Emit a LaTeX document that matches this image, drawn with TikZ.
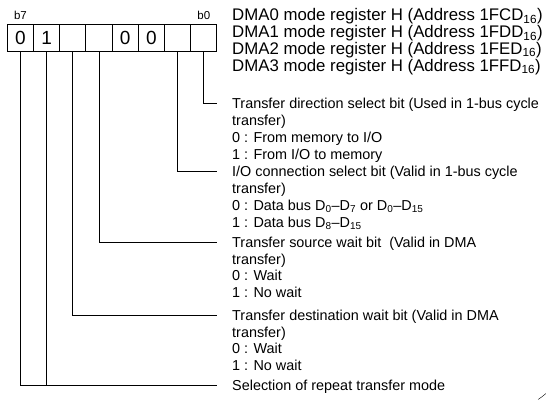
\documentclass[tikz,border=0pt]{standalone}
\usepackage{fontspec}
\setmainfont{Liberation Sans}
\usetikzlibrary{positioning}
\tikzset{
  bitcell/.style={draw, line width=0.9pt, minimum size=26.2pt, inner sep=0pt, font=\fontsize{19}{20}\selectfont},
  bitlbl/.style={inner sep=0pt, font=\fontsize{11.5}{12}\selectfont},
  leader/.style={line width=0.8pt},
  desc/.style={anchor=base west, align=left, inner sep=0pt, font=\fontsize{14.4}{16.8}\selectfont},
  hdrtxt/.style={desc, font=\fontsize{16.8}{16.7}\selectfont},
}
\begin{document}
\begin{tikzpicture}[x=1pt,y=-1pt]
\useasboundingbox (0,0) rectangle (546,400);
% register bits, b7 on the left
\foreach \b/\v in {7/0,6/1,5/{},4/{},3/0,2/0,1/{},0/{}} {
  \node[bitcell] (c\b) at ({7.3+26.2*(7-\b)+13.1},38) {\v};
}
\node[bitlbl, above=5pt of c7] (lb7) {b7};
\node[bitlbl, above=5pt of c0] (lb0) {b0};
% register names (base = last line)
\node[hdrtxt] (hdr) at (232,71) {DMA0 mode register H (Address 1FCD\textsubscript{16})\\
  DMA1 mode register H (Address 1FDD\textsubscript{16})\\
  DMA2 mode register H (Address 1FED\textsubscript{16})\\
  DMA3 mode register H (Address 1FFD\textsubscript{16})};
% bit descriptions
\coordinate (e0) at (216.7,103.5);
\node[desc] (t0) at (232,159.1) {Transfer direction select bit (Used in 1-bus cycle\\
  transfer)\\ 0 : From memory to I/O\\ 1 : From I/O to memory};
\coordinate (e1) at (216.7,171.7);
\node[desc] (t1) at (232,227.3) {I/O connection select bit (Valid in 1-bus cycle\\
  transfer)\\ 0 : Data bus D\textsubscript{0}--D\textsubscript{7} or D\textsubscript{0}--D\textsubscript{15}\\
  1 : Data bus D\textsubscript{8}--D\textsubscript{15}};
\coordinate (e2) at (216.7,242);
\node[desc] (t2) at (232,297.6) {Transfer source wait bit\ \ (Valid in DMA\\
  transfer)\\ 0 : Wait\\ 1 : No wait};
\coordinate (e3) at (216.7,315);
\node[desc] (t3) at (232,370.6) {Transfer destination wait bit (Valid in DMA\\
  transfer)\\ 0 : Wait\\ 1 : No wait};
\coordinate (e4) at (216.7,385);
\node[desc] (t4) at (232,390.2) {Selection of repeat transfer mode};
% leaders
\draw[leader] (c0.south) |- (e0);
\draw[leader] (c1.south) |- (e1);
\draw[leader] (c4.south) |- (e2);
\draw[leader] (c5.south) |- (e3);
\draw[leader] (c6.south) |- (e4);
\draw[leader] (c7.south) |- (e4);
\draw[line width=0.4pt] (538,399.5) .. controls (541,397.5) .. (546,393.5);
\end{tikzpicture}
\end{document}
